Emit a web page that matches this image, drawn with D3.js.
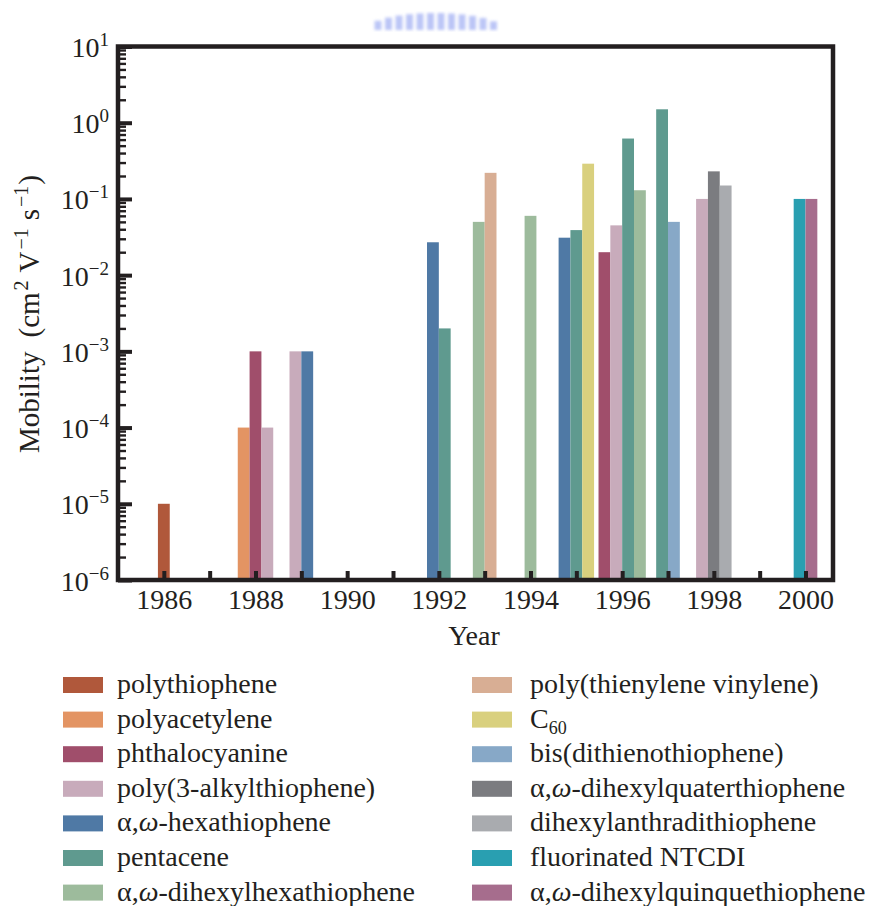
<!DOCTYPE html>
<html lang="en">
<head>
    <meta charset="UTF-8">
    <title>Mobility by year</title>
    <script src="https://cdn.jsdelivr.net/npm/d3@7"></script>
    <style>
        body{ margin:0; background:#fff; }
        svg{ position:absolute; left:0px; top:0px; }
        svg text{ font-family:"Times New Roman", "Liberation Serif", Times, "Nimbus Roman", "DejaVu Serif", "Noto Serif", serif !important; fill:#231f20; }
    </style>
</head>
<body>
    <svg id="chart" width="874" height="906"></svg>
    <script>
        // materials, legend order
        var seriesNames = ["polythiophene", "polyacetylene", "phthalocyanine", "poly(3-alkylthiophene)",
            "α,ω-hexathiophene", "pentacene", "α,ω-dihexylhexathiophene", "poly(thienylene vinylene)",
            "C_{60}", "bis(dithienothiophene)", "α,ω-dihexylquaterthiophene", "dihexylanthradithiophene",
            "fluorinated NTCDI", "α,ω-dihexylquinquethiophene"]
        var seriesColors = ["#b0583b", "#e39463", "#a04e6b", "#c8abbb", "#4f79a5", "#5f9a8f", "#9dbb9c",
            "#d8ae94", "#d9d07e", "#87a8c7", "#7b7c80", "#a9abaf", "#299fb1", "#a66d8d"]

        // one entry per bar (year, material index, mobility in cm2/Vs)
        var barYears  = [1986, 1988, 1988, 1988, 1989, 1989, 1992, 1992, 1993, 1993, 1994, 1995, 1995,
                         1995, 1996, 1996, 1996, 1996, 1997, 1997, 1998, 1998, 1998, 2000, 2000]
        var barSeries = [0, 1, 2, 3, 3, 4, 4, 5, 6, 7, 6, 4, 5, 8, 2, 3, 5, 6, 5, 9, 3, 10, 11, 12, 13]
        var barValues = [1e-5, 1e-4, 1e-3, 1e-4, 1e-3, 1e-3, 0.027, 0.002, 0.05, 0.22, 0.06, 0.031, 0.039,
                         0.29, 0.02, 0.045, 0.62, 0.13, 1.5, 0.05, 0.1, 0.23, 0.15, 0.1, 0.1]

        var yearTicks = [1986, 1987, 1988, 1989, 1990, 1991, 1992, 1993, 1994, 1995, 1996, 1997, 1998, 1999, 2000]
        var decadeExps = [-6, -5, -4, -3, -2, -1, 0, 1]

        var ink = "#231f20"
        var svg = d3.select("#chart")

        var x = d3.scaleLinear().domain([1985, 2000.6]).range([118, 833])
        var y = d3.scaleLog().domain([1e-6, 10]).range([580, 46.5])
        var barW = x(1985.258) - x(1985)

        // faint watermark at the top (part of the scanned page)
        var blur = svg.append("defs").append("filter").attr("id", "soft")
        blur.append("feGaussianBlur").attr("stdDeviation", 1.6)
        var wm = svg.append("g").attr("filter", "url(#soft)").attr("opacity", 0.55)
        d3.range(12).forEach(function(i){
            var cx = 378 + i * 10.5
            var dx = (cx - 435) / 68
            var top = 30 - 17 * Math.sqrt(Math.max(0, 1 - dx * dx))
            wm.append("rect").attr("x", cx - 3.5).attr("y", top).attr("width", 7).attr("height", 30 - top)
              .attr("fill", "#8597f0")
        })

        // bars: within a year, placed side by side around the year
        var bars = barYears.map(function(yr, i){ return {year: yr, s: barSeries[i], v: barValues[i]} })
        d3.group(bars, function(d){ return d.year }).forEach(function(list){
            list.forEach(function(d, k){ d.k = k; d.n = list.length })
        })

        svg.append("g").selectAll("rect").data(bars).enter().append("rect")
            .attr("x", function(d){ return x(d.year) + (d.k - d.n / 2) * barW })
            .attr("width", barW)
            .attr("y", function(d){ return y(d.v) })
            .attr("height", function(d){ return y(1e-6) - y(d.v) })
            .attr("fill", function(d){ return seriesColors[d.s] })

        // x axis, inward ticks every year, label every other year
        var xAxis = svg.append("g").attr("transform", "translate(0,580)")
            .call(d3.axisBottom(x).tickValues(yearTicks).tickSize(-9).tickSizeOuter(0)
                .tickFormat(function(d){ return d % 2 === 0 ? d : "" }))
        xAxis.attr("font-family", null).attr("font-size", null)
        xAxis.select(".domain").remove()
        xAxis.selectAll(".tick line").attr("stroke", ink).attr("stroke-width", 4)
        xAxis.selectAll(".tick text").attr("y", 29).attr("dy", 0)
            .style("font-size", "28px").attr("fill", ink)

        // y axis minor ticks
        var minors = []
        decadeExps.slice(0, -1).forEach(function(e){
            d3.range(2, 10).forEach(function(m){ minors.push(m * Math.pow(10, e)) })
        })
        var yMinor = svg.append("g").attr("transform", "translate(118,0)")
            .call(d3.axisLeft(y).tickValues(minors).tickSize(-8).tickSizeOuter(0).tickFormat(""))
        yMinor.select(".domain").remove()
        yMinor.selectAll(".tick line").attr("stroke", ink).attr("stroke-width", 2.4)

        // y axis decades with 10^n labels
        var yMajor = svg.append("g").attr("transform", "translate(118,0)")
            .call(d3.axisLeft(y).tickValues(decadeExps.map(function(e){ return Math.pow(10, e) }))
                .tickSize(-14).tickSizeOuter(0).tickPadding(9))
        yMajor.attr("font-family", null).attr("font-size", null)
        yMajor.select(".domain").remove()
        yMajor.selectAll(".tick line").attr("stroke", ink).attr("stroke-width", 4)
        yMajor.selectAll(".tick text")
            .attr("dy", 10).attr("fill", ink)
            .style("font-size", "28px")
            .each(function(d){
                var t = d3.select(this).text(null)
                var e = Math.round(Math.log10(d))
                t.append("tspan").text("10")
                t.append("tspan").attr("dy", -11).style("font-size", "19px")
                    .text(e < 0 ? "\u2212" + (-e) : String(e))
            })

        // frame
        svg.append("rect").attr("x", 118).attr("y", 46.5).attr("width", 715).attr("height", 533.5)
            .attr("fill", "none").attr("stroke", ink).attr("stroke-width", 4.5)

        // axis titles
        svg.append("text").attr("x", 474).attr("y", 645).attr("text-anchor", "middle")
            .style("font-size", "28px").text("Year")

        var yl = svg.append("text").attr("transform", "translate(39,314) rotate(-90)")
            .attr("text-anchor", "middle").style("font-size", "29px")
        yl.append("tspan").text("Mobility")
        yl.append("tspan").attr("dx", 14).text("(cm")
        yl.append("tspan").attr("dx", 2).attr("dy", -11).style("font-size", "20px").text("2")
        yl.append("tspan").attr("dx", 8).attr("dy", 11).text("V")
        yl.append("tspan").attr("dx", 2).attr("dy", -11).style("font-size", "20px").text("\u22121")
        yl.append("tspan").attr("dx", 8).attr("dy", 11).text("s")
        yl.append("tspan").attr("dx", 2).attr("dy", -11).style("font-size", "20px").text("\u22121")
        yl.append("tspan").attr("dx", 1).attr("dy", 11).text(")")

        // legend, two columns of seven
        function writeLabel(t, label){
            label.split(/(ω|_\{\d+\})/).forEach(function(part){
                if (!part) return
                if (part === "ω") t.append("tspan").style("font-style", "italic").text(part)
                else if (part[0] === "_") {
                    t.append("tspan").attr("dy", 6).style("font-size", "18px").text(part.slice(2, -1))
                    t.append("tspan").attr("dy", -6).text("")
                }
                else t.append("tspan").text(part)
            })
        }

        var legend = svg.append("g")
        seriesNames.forEach(function(name, i){
            var col = i < 7 ? 0 : 1
            var row = i % 7
            var sx = col === 0 ? 63 : 472
            var tx = col === 0 ? 117 : 530
            var top = 677 + row * 34.6
            legend.append("rect").attr("x", sx).attr("y", top).attr("width", 40).attr("height", 16)
                .attr("fill", seriesColors[i])
            var t = legend.append("text").attr("x", tx).attr("y", top + 16).style("font-size", "28px")
            writeLabel(t, name)
        })
    </script>
</body>
</html>
